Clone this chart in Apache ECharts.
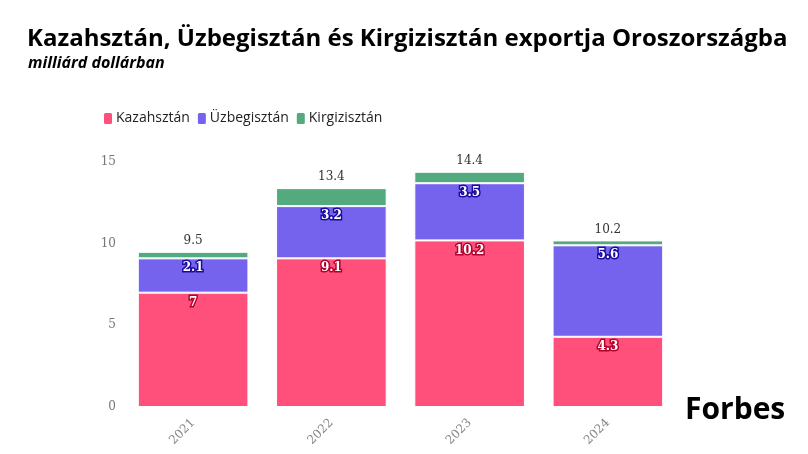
<!DOCTYPE html>
<html><head><meta charset="utf-8">
<script src="https://cdn.jsdelivr.net/npm/echarts@6/dist/echarts.min.js"></script>
<style>html,body{margin:0;padding:0;background:#fff}#c{width:808px;height:454px}</style>
</head><body><div id="c"></div>
<script>
const categories = ['2021', '2022', '2023', '2024'];
const kazahsztan = [7, 9.1, 10.2, 4.3];
const uzbegisztan = [2.1, 3.2, 3.5, 5.6];
const kirgizisztan = [0.4, 1.1, 0.7, 0.3];
const yTicks = [0, 5, 10, 15];

const totals = categories.map((_, i) => +(kazahsztan[i] + uzbegisztan[i] + kirgizisztan[i]).toFixed(1));
const serif = '"DejaVu Serif", serif';

const chart = echarts.init(document.getElementById('c'), null, {renderer: 'canvas'});
const innerLabel = (border) => ({
  show: true, position: 'insideTop', distance: 4,
  fontFamily: serif, fontWeight: 'bold', fontSize: 12, color: '#fff',
  textBorderColor: border, textBorderWidth: 3
});
chart.setOption({
  animation: false,
  title: [
    {text: 'Kazahsztán, Üzbegisztán és Kirgizisztán exportja Oroszországba', left: 22, top: 22,
     textStyle: {fontFamily: '"Open Sans"', fontWeight: 'bold', fontSize: 24, color: '#000'}},
    {text: 'milliárd dollárban', left: 23, top: 50,
     textStyle: {fontFamily: '"Open Sans"', fontWeight: 'bold', fontStyle: 'italic', fontSize: 16, color: '#000'}},
    {text: 'Forbes', left: 680, top: 390,
     textStyle: {fontFamily: '"Open Sans"', fontWeight: 'bold', fontSize: 30, color: '#000'}}
  ],
  legend: {
    left: 97, top: 106, itemWidth: 10, itemHeight: 13, itemGap: 6, icon: 'roundRect',
    textStyle: {fontFamily: '"Open Sans"', fontSize: 14, color: '#222', padding: [0, 0, 0, -2]}
  },
  grid: {left: 124, right: 131, top: 162, bottom: 47},
  xAxis: {
    type: 'category', data: categories,
    axisLine: {show: false}, axisTick: {show: false},
    axisLabel: {rotate: 45, fontFamily: serif, fontSize: 12, color: '#888', margin: 14}
  },
  yAxis: {
    type: 'value', min: 0, max: 15, interval: 5,
    axisLabel: {fontFamily: serif, fontSize: 12, color: '#777', margin: 8,
      formatter: v => yTicks.includes(v) ? String(v) : ''},
    splitLine: {show: false}
  },
  series: [
    {name: 'Kazahsztán', type: 'bar', stack: 't', data: kazahsztan, barWidth: '80%',
     itemStyle: {color: '#ff4f7b', borderColor: '#fff', borderWidth: 1},
     label: innerLabel('#b3002c')},
    {name: 'Üzbegisztán', type: 'bar', stack: 't', data: uzbegisztan,
     itemStyle: {color: '#7563ee', borderColor: '#fff', borderWidth: 1},
     label: innerLabel('#1a0aa0')},
    {name: 'Kirgizisztán', type: 'bar', stack: 't', data: kirgizisztan,
     itemStyle: {color: '#52aa7e', borderColor: '#fff', borderWidth: 1},
     label: {show: true, position: 'top', distance: 5, fontFamily: serif, fontSize: 12, color: '#333',
       formatter: p => String(totals[p.dataIndex])}}
  ]
});
</script></body></html>
